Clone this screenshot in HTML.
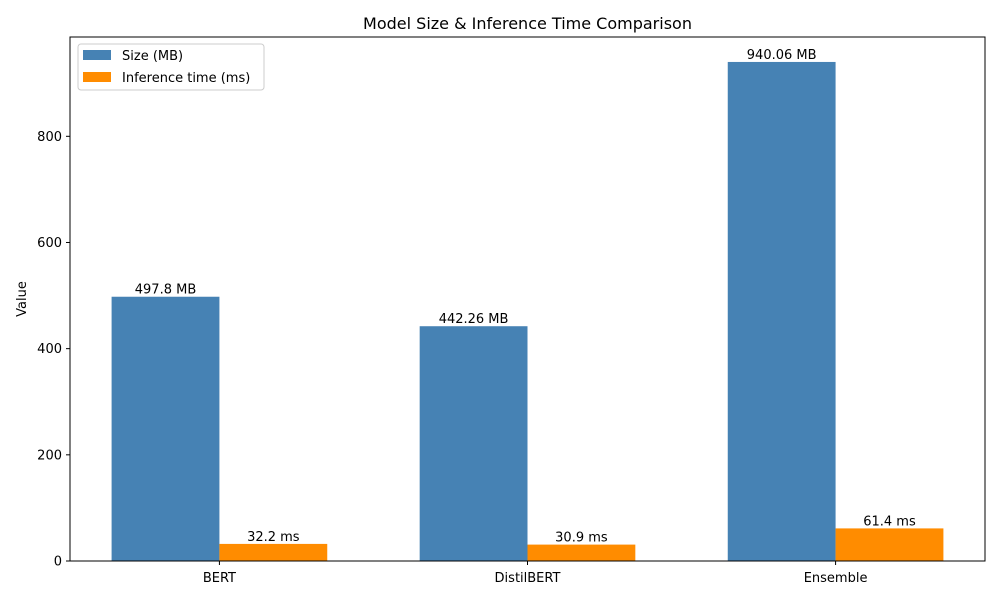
<!DOCTYPE html>
<html><head><meta charset="utf-8"><style>
body{margin:0;background:#fff;font-family:"Liberation Sans","DejaVu Sans",sans-serif;}
svg text{font-family:"DejaVu Sans","Liberation Sans",sans-serif;}
</style></head><body>
<svg id="chart" width="1000" height="600" viewBox="0 0 1000 600" xmlns="http://www.w3.org/2000/svg">
<rect width="1000" height="600" fill="#fff"/>
<g id="marks"></g>
</svg>
<script>
const categories = ["BERT","DistilBERT","Ensemble"];
const sizeValues = [497.8, 442.26, 940.06];
const timeValues = [32.2, 30.9, 61.4];
const sizeLabels = ["497.8 MB","442.26 MB","940.06 MB"];
const timeLabels = ["32.2 ms","30.9 ms","61.4 ms"];
const yTicks = [0,200,400,600,800];

const L=70,R=985,T=37,B=561;
const ymax=Math.max(...sizeValues,...timeValues)*1.05;
const xmin=-0.485,xmax=categories.length-1+0.485;
const X=v=>L+(v-xmin)/(xmax-xmin)*(R-L);
const Y=v=>B-v/ymax*(B-T);
const svg=document.getElementById('chart');
const NS="http://www.w3.org/2000/svg";
function mk(tag,attrs,parent){const e=document.createElementNS(NS,tag);for(const k in attrs)e.setAttribute(k,attrs[k]);(parent||svg).appendChild(e);return e;}
const w=0.35;
categories.forEach((c,i)=>{
  const x1=X(i-w),x2=X(i),x3=X(i+w);
  const b1=mk('rect',{x:x1,y:Y(sizeValues[i]),width:x2-x1,height:B-Y(sizeValues[i]),fill:'#4682b4'});
  
  
  const b2=mk('rect',{x:x2,y:Y(timeValues[i]),width:x3-x2,height:B-Y(timeValues[i]),fill:'#ff8c00'});
  
  
  const t1=mk('text',{x:(x1+x2)/2,y:Y(sizeValues[i])-3,'text-anchor':'middle','font-size':13});
  t1.textContent=sizeLabels[i];
  
  
  const t2=mk('text',{x:(x2+x3)/2,y:Y(timeValues[i])-3,'text-anchor':'middle','font-size':13});
  t2.textContent=timeLabels[i];
  
  
  mk('line',{x1:X(i),x2:X(i),y1:B,y2:B+4,stroke:'#000'});
  const xl=mk('text',{x:X(i),y:B+21,'text-anchor':'middle','font-size':13});
  xl.textContent=c;
  
  
});
yTicks.forEach(v=>{
  mk('line',{x1:L-4,x2:L,y1:Y(v),y2:Y(v),stroke:'#000'});
  const t=mk('text',{x:L-8,y:Y(v)+4.5,'text-anchor':'end','font-size':13});
  t.textContent=v;
  
  
});
const frame=mk('rect',{x:L,y:T,width:R-L,height:B-T,fill:'none',stroke:'#000','stroke-width':1});


const title=mk('text',{x:(L+R)/2,y:29,'text-anchor':'middle','font-size':16});
title.textContent='Model Size & Inference Time Comparison';


const yt=mk('text',{x:26,y:(T+B)/2,'text-anchor':'middle','font-size':13,transform:`rotate(-90 26 ${(T+B)/2})`});
yt.textContent='Value';


const lg=mk('g',{});


mk('rect',{x:78,y:44,width:186,height:46,rx:3,fill:'#fff',stroke:'#ccc'},lg);
mk('rect',{x:83,y:50,width:28,height:10,fill:'#4682b4'},lg);
mk('rect',{x:83,y:72,width:28,height:10,fill:'#ff8c00'},lg);
const l1=mk('text',{x:122,y:60,'font-size':13},lg);l1.textContent='Size (MB)';


const l2=mk('text',{x:122,y:82,'font-size':13},lg);l2.textContent='Inference time (ms)';


</script>
</body></html>
